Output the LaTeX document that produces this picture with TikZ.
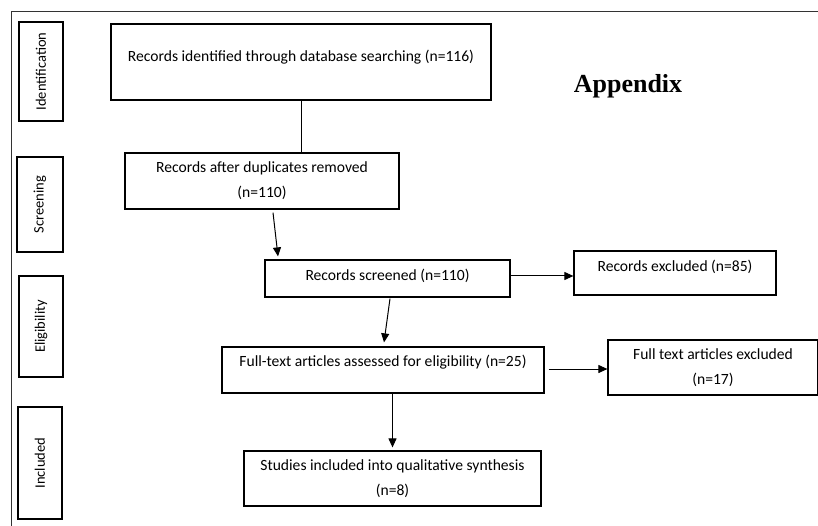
\documentclass[tikz,border=0pt]{standalone}
\usepackage{fontspec}
\setmainfont{Carlito}
\newfontfamily\appfont{Liberation Serif}
\usetikzlibrary{arrows.meta,positioning,calc}

\begin{document}
\begin{tikzpicture}[x=1pt,y=-1pt,
  box/.style={draw,line width=1.2pt,inner sep=0pt,align=center,font=\fontsize{15.6}{25}\selectfont},
  side/.style={draw,line width=1.2pt,inner sep=0pt,rotate=90,font=\fontsize{14.5}{18}\selectfont},
  >={Triangle[length=9pt,width=8pt]}]

\useasboundingbox (0,0) rectangle (818,526);
\clip (0,0) rectangle (818,526);

\draw[line width=0.9pt,black!80] (11,526) -- (11,11) -- (818,11);

\node[side,minimum width=99pt,minimum height=44pt] (ident) at (41,71.5) {Identification};
\node[side,minimum width=95pt,minimum height=46pt] (screen) at (40,204.5) {Screening};
\node[side,minimum width=101pt,minimum height=44pt] (elig) at (41,326.5) {Eligibility};
\node[side,minimum width=112pt,minimum height=44pt] (incl) at (40,463) {Included};

\node[box,minimum width=380pt,minimum height=76pt,text depth=13pt] (found) at (301,62) {Records identified through database searching (n=116)};
\node[box,minimum width=274pt,minimum height=56pt] (dup) at (262,181) {Records after duplicates removed\\(n=110)};
\node[box,minimum width=245pt,minimum height=37pt,text depth=8pt] (screened) at (387.5,278.5) {Records screened (n=110)};
\node[box,minimum width=202pt,minimum height=44pt,text depth=15pt] (excluded) at (675,273) {Records excluded (n=85)};
\node[box,minimum width=322pt,minimum height=46pt,text depth=19pt] (full) at (383,370) {Full-text articles assessed for eligibility (n=25)};
\node[box,minimum width=210pt,minimum height=55pt] (ftexcl) at (713,367.5) {Full text articles excluded\\(n=17)};
\node[box,minimum width=297pt,minimum height=55pt] (studies) at (392.5,478.5) {Studies included into qualitative synthesis\\(n=8)};

\node[font=\appfont\bfseries\fontsize{26}{30}\selectfont] (app) at (628,86) {Appendix};

\draw[line width=1pt] (found.south) -- (found.south |- dup.north);
\draw[->,line width=1pt] ([xshift=11pt,yshift=-3pt]dup.south) -- ([xshift=-109.5pt,yshift=3pt]screened.north);
\draw[->,line width=1pt] ([xshift=2.5pt,yshift=-1pt]screened.south) -- ([xshift=1pt,yshift=4pt]full.north);
\draw[->,line width=1pt] ([yshift=2.5pt]screened.east) -- ([yshift=2.5pt]screened.east -| excluded.west);
\draw[->,line width=1pt] ([xshift=4pt,yshift=1pt]full.east) -- ([yshift=1pt]full.east -| ftexcl.west);
\draw[->,line width=1pt] (studies.north |- full.south) -- ([yshift=3pt]studies.north);

\end{tikzpicture}
\end{document}
